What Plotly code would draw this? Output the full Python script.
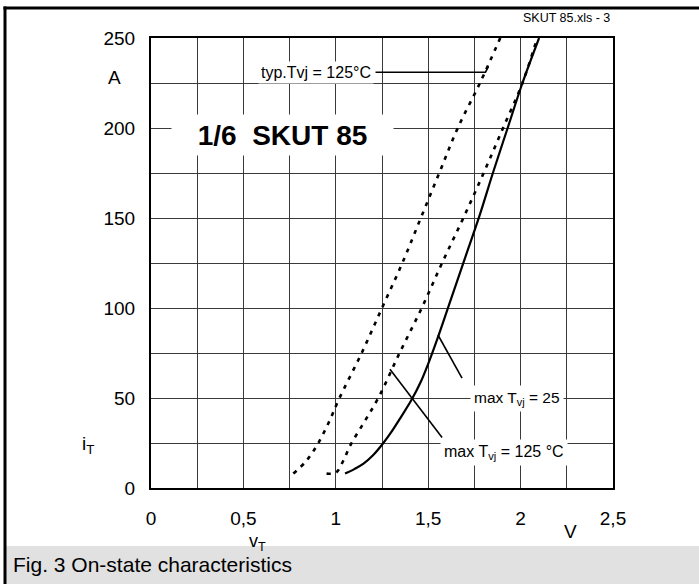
import plotly.graph_objects as go

# ---- data ----
typ125_v = [0.77, 0.84, 0.90, 0.96, 1.02, 1.14, 1.25, 1.36, 1.46, 1.56, 1.66, 1.78, 1.89]
typ125_i = [8, 15, 24, 36, 50, 75, 100, 125, 150, 175, 200, 225, 250]

max125_v = [0.95, 1.00, 1.04, 1.08, 1.15, 1.23, 1.345, 1.465, 1.575, 1.69, 1.80, 1.905, 2.01, 2.09]
max125_i = [8, 8.5, 15, 24, 36, 50, 75, 100, 125, 150, 175, 200, 225, 250]

max25_v = [1.05, 1.10, 1.15, 1.20, 1.25, 1.30, 1.35, 1.41, 1.46, 1.50, 1.55, 1.62, 1.70, 1.78, 1.85, 1.93, 2.01, 2.10]
max25_i = [8, 10.5, 13.5, 18, 24, 31, 39, 49, 59, 69, 83, 104, 128, 152, 175, 200, 225, 250]

# leader lines
typ_lead_v = [1.215, 1.81, 1.825]
typ_lead_i = [231, 231, 234]
max25_lead_v = [1.553, 1.683]
max25_lead_i = [85, 61]
max125_lead_v = [1.293, 1.575]
max125_lead_i = [66, 28]

x_tickvals = [0, 0.25, 0.5, 0.75, 1, 1.25, 1.5, 1.75, 2, 2.25, 2.5]
x_ticktext = ["0", "", "0,5", "", "1", "", "1,5", "", "2", "", "2,5"]
y_tickvals = [0, 25, 50, 75, 100, 125, 150, 175, 200, 225, 250]
y_ticktext = ["0", "", "50", "", "100", "", "150", "", "200", "", "250"]

# ---- layout geometry ----
W, H = 699, 584
L, R, T, B = 151, 613, 38, 488
FONT = "Liberation Sans, Arial, sans-serif"


def px(x):
    return (x - L) / (R - L)


def py(y):
    return (B - y) / (B - T)


fig = go.Figure()
fig.add_trace(go.Scatter(x=typ125_v, y=typ125_i, mode="lines",
                         line=dict(color="black", width=2.6, dash="4px,6px"),
                         line_shape="spline", hoverinfo="skip"))
fig.add_trace(go.Scatter(x=max125_v, y=max125_i, mode="lines",
                         line=dict(color="black", width=2.6, dash="4px,6px"),
                         line_shape="spline", hoverinfo="skip"))
fig.add_trace(go.Scatter(x=max25_v, y=max25_i, mode="lines",
                         line=dict(color="black", width=2.2),
                         line_shape="spline", hoverinfo="skip"))
for lv, li in [(typ_lead_v, typ_lead_i), (max25_lead_v, max25_lead_i), (max125_lead_v, max125_lead_i)]:
    fig.add_trace(go.Scatter(x=lv, y=li, mode="lines",
                             line=dict(color="black", width=1.6), hoverinfo="skip"))


def label(xp, yp, text, size, xanchor="center"):
    return dict(x=px(xp), y=py(yp), xref="paper", yref="paper", text=text,
                xanchor=xanchor, yanchor="middle",
                font=dict(size=size, color="black", family=FONT), showarrow=False)


annotations = [
    dict(x=0.709, y=196, xref="x", yref="y", text="<b>1/6  SKUT 85</b>",
         xanchor="center", yanchor="middle",
         font=dict(size=28, color="black", family=FONT), showarrow=False,
         bgcolor="white", width=215, height=34, borderpad=3),
    dict(x=1.205, y=231, xref="x", yref="y", xanchor="right", yanchor="middle",
         text="typ.Tvj = 125°C",
         font=dict(size=16, color="black", family=FONT), showarrow=False,
         bgcolor="white", borderpad=2),
    dict(x=1.725, y=50, xref="x", yref="y", xanchor="left", yanchor="middle",
         text="max T<sub>vj</sub> = 25",
         font=dict(size=15.5, color="black", family=FONT), showarrow=False,
         bgcolor="white", borderpad=3),
    dict(x=1.565, y=20, xref="x", yref="y", xanchor="left", yanchor="middle",
         text="max T<sub>vj</sub> = 125 °C",
         font=dict(size=16, color="black", family=FONT), showarrow=False,
         bgcolor="white", borderpad=3),
    label(114, 77, "A", 19),
    label(88, 445, "i<sub>T</sub>", 19),
    label(257, 542, "v<sub>T</sub>", 18),
    label(570, 531, "V", 19),
    label(612, 18, "SKUT 85.xls - 3", 12.5, xanchor="right"),
    label(11, 564, "Fig. 3 On-state characteristics", 21, xanchor="left"),
]

shapes = [
    dict(type="rect", xref="paper", yref="paper", x0=px(5), x1=px(700), y0=py(546), y1=py(585),
         fillcolor="#e1e1e1", line=dict(width=0), layer="below"),
    dict(type="line", xref="paper", yref="paper", x0=px(5), x1=px(5), y0=py(6.5), y1=py(585),
         line=dict(color="black", width=3)),
    dict(type="line", xref="paper", yref="paper", x0=px(3.5), x1=px(700), y0=py(8), y1=py(8),
         line=dict(color="black", width=3)),
]

axis_common = dict(showline=True, mirror=True, linecolor="black", linewidth=2,
                   showgrid=True, gridcolor="#3a3a3a", gridwidth=1, zeroline=False,
                   ticks="", tickfont=dict(size=19, color="black", family=FONT))

fig.update_layout(
    width=W, height=H,
    margin=dict(l=L, r=W - R, t=T, b=H - B),
    paper_bgcolor="white", plot_bgcolor="white",
    showlegend=False,
    xaxis=dict(range=[0, 2.5], tickvals=x_tickvals, ticktext=x_ticktext,
               ticklabelstandoff=12, **axis_common),
    yaxis=dict(range=[0, 250], tickvals=y_tickvals, ticktext=y_ticktext,
               ticklabelstandoff=10, **axis_common),
    annotations=annotations,
    shapes=shapes,
)

fig.write_html("out.html", config={"displayModeBar": False},
               post_script="document.body.style.margin='0';document.body.style.overflow='hidden';")
